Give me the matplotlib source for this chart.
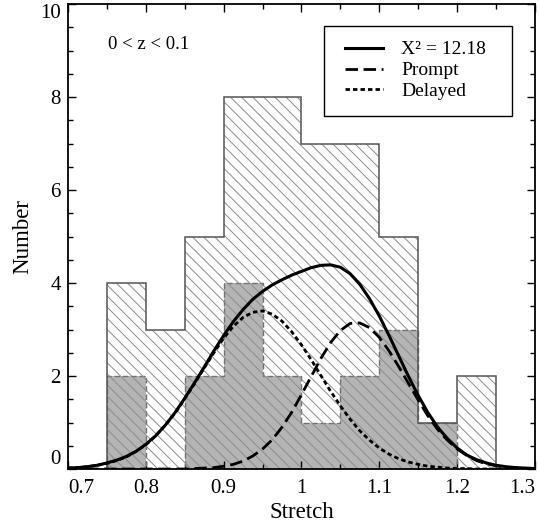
import numpy as np
import matplotlib.pyplot as plt
from matplotlib.patches import Rectangle

plt.rcParams['font.family'] = ['Liberation Serif', 'DejaVu Serif']
plt.rcParams['hatch.linewidth'] = 0.7

# histogram bins (stretch) and counts
bin_edges = [0.75, 0.80, 0.85, 0.90, 0.95, 1.00, 1.05, 1.10, 1.15, 1.20, 1.25]
n_all = [4, 3, 5, 8, 8, 7, 7, 5, 1, 2]
n_sub = [2, 0, 2, 4, 2, 1, 2, 3, 1, 0]

# model curves
stretch = [0.7000, 0.7125, 0.7250, 0.7375, 0.7500, 0.7625, 0.7750, 0.7875,
           0.8000, 0.8125, 0.8250, 0.8375, 0.8500, 0.8625, 0.8750, 0.8875,
           0.9000, 0.9125, 0.9250, 0.9375, 0.9500, 0.9625, 0.9750, 0.9875,
           1.0000, 1.0125, 1.0250, 1.0375, 1.0500, 1.0625, 1.0750, 1.0875,
           1.1000, 1.1125, 1.1250, 1.1375, 1.1500, 1.1625, 1.1750, 1.1875,
           1.2000, 1.2125, 1.2250, 1.2375, 1.2500, 1.2625, 1.2750, 1.2875,
           1.3000]
total = [0.02, 0.03, 0.05, 0.08, 0.13, 0.19, 0.27, 0.38, 0.53, 0.71, 0.94,
         1.21, 1.52, 1.85, 2.19, 2.54, 2.87, 3.17, 3.43, 3.65, 3.82, 3.96,
         4.07, 4.17, 4.25, 4.33, 4.38, 4.39, 4.34, 4.20, 3.97, 3.66, 3.29,
         2.87, 2.43, 1.99, 1.58, 1.21, 0.90, 0.65, 0.45, 0.30, 0.20, 0.13,
         0.08, 0.05, 0.03, 0.02, 0.01]
prompt = [0.00, 0.00, 0.00, 0.00, 0.00, 0.00, 0.00, 0.00, 0.00, 0.00, 0.00,
          0.00, 0.00, 0.01, 0.02, 0.03, 0.06, 0.10, 0.17, 0.28, 0.43, 0.63,
          0.90, 1.22, 1.60, 1.99, 2.38, 2.72, 2.98, 3.13, 3.14, 3.04, 2.83,
          2.54, 2.20, 1.84, 1.48, 1.14, 0.85, 0.62, 0.43, 0.29, 0.18, 0.11,
          0.07, 0.04, 0.02, 0.01, 0.01]
delayed = [0.02, 0.03, 0.05, 0.08, 0.12, 0.18, 0.26, 0.38, 0.52, 0.71, 0.94,
           1.20, 1.51, 1.83, 2.17, 2.50, 2.81, 3.07, 3.26, 3.37, 3.40, 3.33,
           3.18, 2.95, 2.67, 2.35, 2.01, 1.67, 1.36, 1.07, 0.82, 0.62, 0.45,
           0.32, 0.22, 0.15, 0.10, 0.06, 0.04, 0.02, 0.01, 0.01, 0.00, 0.00,
           0.00, 0.00, 0.00, 0.00, 0.00]

chi2_label = 'X\u00b2 = 12.18'
z_label = '0 < z < 0.1'

fig = plt.figure(figsize=(5.39, 5.29), dpi=100)
ax = fig.add_axes([0.126, 0.1134, 0.8666, 0.879])

# subsample histogram: gray fill with dashed edge
ax.stairs(n_sub, bin_edges, fill=True, facecolor='#b4b4b4', edgecolor='none',
          linewidth=0, zorder=1)
ax.stairs(n_sub, bin_edges, baseline=0, fill=False, edgecolor='#707070',
          linewidth=1, linestyle=(0, (4, 2)), zorder=2)

# full sample: hatched
ax.stairs(n_all, bin_edges, fill=True, facecolor='none', edgecolor='#8c8c8c',
          hatch='\\\\\\', linewidth=0, zorder=2)
ax.stairs(n_all, bin_edges, baseline=0, fill=False, edgecolor='#555555',
          linewidth=1.1, zorder=2.5)

ax.plot(stretch, total, color='black', lw=2.2, label=chi2_label, zorder=3)
ax.plot(stretch, prompt, color='black', lw=2.0, ls=(0, (4.5, 2)),
        label='Prompt', zorder=3)
ax.plot(stretch, delayed, color='black', lw=2.0, ls=(0, (1.6, 1.1)),
        label='Delayed', zorder=3)

ax.text(0.751, 9.12, z_label, fontsize=13.5, va='center', ha='left')

# legend box drawn by hand so the padding matches
ax.add_patch(Rectangle((0.548, 0.759), 0.403, 0.194, transform=ax.transAxes,
                       facecolor='white', edgecolor='black', lw=1.0, zorder=4))
leg = ax.legend(loc='center left', bbox_to_anchor=(0.593, 0.857),
                borderaxespad=0, borderpad=0, fontsize=14, frameon=False,
                handlelength=1.95, handletextpad=0.95, labelspacing=0.17)
leg.set_zorder(5)

ax.set_xlim(0.7, 1.3)
ax.set_ylim(0, 10)
ax.set_xticks([0.7, 0.8, 0.9, 1.0, 1.1, 1.2, 1.3])
ax.set_xticklabels(['0.7', '0.8', '0.9', '1', '1.1', '1.2', '1.3'])
ax.set_xticks(np.arange(0.75, 1.3, 0.1), minor=True)
ax.set_yticks([0, 2, 4, 6, 8, 10])
ax.set_yticks(np.arange(0.5, 10, 0.5), minor=True)
ax.tick_params(which='both', direction='in', top=True, right=True,
               labelsize=15, width=1)
ax.tick_params(which='major', length=6)
ax.tick_params(which='minor', length=3.5)
ax.tick_params(axis='x', pad=7)
ax.tick_params(axis='y', pad=5)
xl = ax.get_xticklabels()
xl[0].set_ha('left')
xl[-1].set_ha('right')
yl = ax.get_yticklabels()
yl[0].set_va('bottom')
yl[-1].set_va('top')
for s in ax.spines.values():
    s.set_linewidth(1.3)
    s.set_zorder(6)

ax.set_xlabel('Stretch', fontsize=16.5, labelpad=3)
ax.set_ylabel('Number', fontsize=16.5, labelpad=5)

fig.savefig('out.png', dpi=100)
